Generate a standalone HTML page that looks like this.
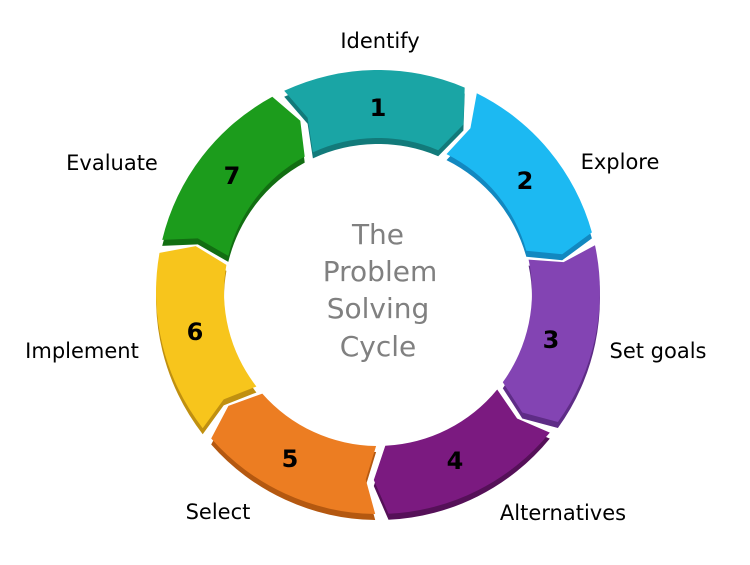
<!DOCTYPE html>
<html><head><meta charset="utf-8"><style>
body{margin:0;background:#fff;width:750px;height:565px;overflow:hidden}
svg{position:absolute;left:0;top:0}
text{font-family:"DejaVu Sans","Liberation Sans",sans-serif}
</style></head><body>
<svg id="s" width="750" height="565" xmlns="http://www.w3.org/2000/svg">
<g id="ring"></g>
<g font-size="21" fill="#000">
<text x="380" y="48" text-anchor="middle">Identify</text>
<text x="620" y="169" text-anchor="middle">Explore</text>
<text x="658" y="358" text-anchor="middle">Set goals</text>
<text x="563" y="520" text-anchor="middle">Alternatives</text>
<text x="218" y="519" text-anchor="middle">Select</text>
<text x="82" y="358" text-anchor="middle">Implement</text>
<text x="112" y="170" text-anchor="middle">Evaluate</text>
</g>
<g font-size="24" font-weight="bold" fill="#000" text-anchor="middle">
<text x="378" y="116">1</text>
<text x="525" y="189">2</text>
<text x="551" y="348">3</text>
<text x="455" y="469">4</text>
<text x="290" y="467">5</text>
<text x="195" y="340">6</text>
<text x="232" y="184">7</text>
</g>
<g font-size="28" fill="#808080" text-anchor="middle">
<text x="378" y="244">The</text>
<text x="380" y="281">Problem</text>
<text x="378" y="318">Solving</text>
<text x="378" y="356">Cycle</text>
</g>
</svg>
<script>
var cx=378,cy=292,R=222,r=154,m=(R+r)/2;
var cols=["#1aa5a5","#1cb9f2","#8344b3","#7b1a80","#ec7d22","#f7c51c","#1c9c1c"];
var sh=["#127a7a","#1288c0","#5e2c86","#551058","#b45810","#c09010","#126e12"];
function p(a,rad){a=a*Math.PI/180;return (cx+rad*Math.cos(a)).toFixed(1)+","+(cy+rad*Math.sin(a)).toFixed(1);}
var g=document.getElementById("ring"),h="";
for(var i=0;i<7;i++){
 var c=-90+i*360/7,a0=c-25,a1=c+23;
 var d="M"+p(a0,R)+" A"+R+","+R+" 0 0 1 "+p(a1,R)+" L"+p(a1+4,m)+" L"+p(a1,r)+" A"+r+","+r+" 0 0 0 "+p(a0,r)+" L"+p(a0+3,m)+" Z";
 h+='<path d="'+d+'" fill="'+sh[i]+'" transform="translate(0,6)"/>';
 h+='<path d="'+d+'" fill="'+cols[i]+'"/>';
}
g.innerHTML=h;
</script>
</body></html>
